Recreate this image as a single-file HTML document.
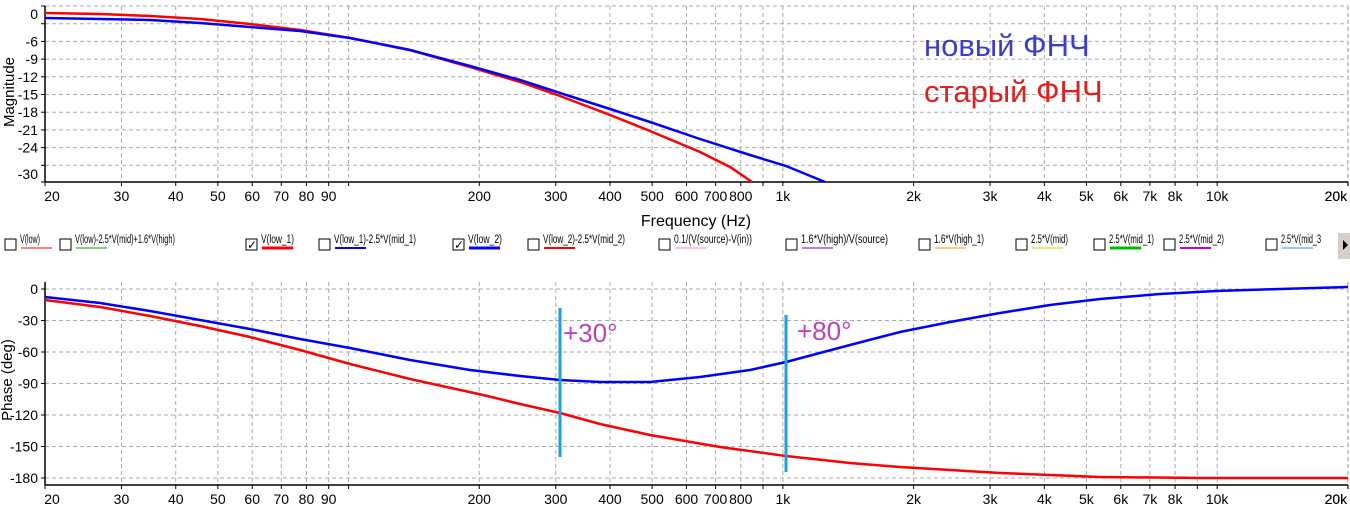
<!DOCTYPE html>
<html><head><meta charset="utf-8"><style>
body{margin:0;background:#fff;width:1350px;height:508px;overflow:hidden}
svg{display:block;font-family:"Liberation Sans",sans-serif}
</style></head><body>
<svg id="s" width="1350" height="508" xmlns="http://www.w3.org/2000/svg">
<g id="g"></g>
<polyline fill="none" stroke="#f00" stroke-width="2.5" points="45,13 100,14 150,16 200,19 250,24 300,30 350,38 410,50 470,67 520,82 560,96 610,115 650,131 700,152 730,167 752,182"/>
<polyline fill="none" stroke="#00f" stroke-width="2.5" points="45,18 100,19 150,20 200,23 250,27 300,31 350,38 410,50 470,66 520,80 560,93 610,109 650,122 700,139 750,155 786,166 825,182"/>
<polyline fill="none" stroke="#f00" stroke-width="2.5" points="45,300 100,307 150,316 200,326 250,337 300,350 350,364 410,379 483,395 520,404 560,413 600,424 650,435 720,447 786,456 850,463 900,467 1000,473 1100,477 1200,478 1348,478"/>
<polyline fill="none" stroke="#00f" stroke-width="2.5" points="45,297 100,303 150,311 200,320 250,329 300,339 350,348 410,360 470,370 520,376 560,380 600,382 650,382 700,377 750,370 786,362 850,345 900,332 950,322 1000,313 1050,305 1100,299 1160,294 1216,291 1280,289 1348,287"/>
<line x1="560" y1="308" x2="560" y2="457" stroke="#1ea0e0" stroke-width="3"/>
<line x1="786" y1="315" x2="786" y2="472" stroke="#1ea0e0" stroke-width="3"/>
<text x="563" y="342" font-size="26" fill="#c040c0">+30°</text>
<text x="797" y="340" font-size="26" fill="#c040c0">+80°</text>
<text x="924" y="56" font-size="31" fill="#3c3cd0">новый ФНЧ</text>
<text x="924" y="102" font-size="31" fill="#e02020">старый ФНЧ</text>
<text x="696" y="226" font-size="16" text-anchor="middle">Frequency (Hz)</text>
<text transform="translate(14,92) rotate(-90)" font-size="15" text-anchor="middle">Magnitude</text>
<text transform="translate(12,380) rotate(-90)" font-size="15" text-anchor="middle">Phase (deg)</text>
<rect x="1338" y="233" width="12" height="26" fill="#d4d0c8"/>
<polygon points="1343,240 1348,245 1343,250" fill="#000"/>
</svg>
<script>
var g=document.getElementById('g'),h='';
function X(f){return 45+Math.log10(f/20)*434.3;}
var fr=[];
for(var d=10;d<=10000;d*=10)for(var k=1;k<10;k++){var f=k*d;if(f>=20&&f<=20000)fr.push(f);}
fr.push(20000);
function lab(f){if(f==100||f==900||f==9000)return '';if(f>=1000){return f%1000?'':(f/1000)+'k';}return String(f);}
function panel(top,bot,ys,yl,lbls){
 fr.forEach(function(f){var x=X(f);h+='<line x1="'+x+'" y1="'+top+'" x2="'+x+'" y2="'+bot+'" stroke="#aaa" stroke-dasharray="4,3"/>';
  var t=lab(f);if(t){var lx=x+(f==20?7:0)+(f==20000?-12:0);h+='<text x="'+lx+'" y="'+(bot+19)+'" font-size="14" text-anchor="middle">'+t+'</text>';}
  h+='<line x1="'+x+'" y1="'+bot+'" x2="'+x+'" y2="'+(bot+4)+'" stroke="#000"/>';});
 ys.forEach(function(y,i){h+='<line x1="45" y1="'+y+'" x2="1348" y2="'+y+'" stroke="#aaa" stroke-dasharray="4,3"/>';
  h+='<line x1="41" y1="'+y+'" x2="45" y2="'+y+'" stroke="#000"/>';
  if(lbls[i]!=='')h+='<text x="38" y="'+(yl[i]+5)+'" font-size="14" text-anchor="end">'+lbls[i]+'</text>';});
 h+='<line x1="45" y1="'+top+'" x2="45" y2="'+bot+'" stroke="#000" stroke-width="1.5"/>';
 h+='<line x1="45" y1="'+bot+'" x2="1348" y2="'+bot+'" stroke="#000" stroke-width="1.5"/>';
}
var ys=[],yl=[],lb=[];
for(var i=0;i<=9;i++){var y=6+i*17.7;ys.push(y);yl.push(y);lb.push('-'+(3*i));}
lb[0]='0';yl[0]=14;lb[1]='';lb[9]='';
ys.push(182);yl.push(174);lb.push('-30');
panel(6,182,ys,yl,lb);
var ys2=[],lb2=[];
for(var i=0;i<=6;i++){ys2.push(289+i*31.5);lb2.push(i==0?'0':'-'+(30*i));}
panel(282,485,ys2,ys2,lb2);
var L=[['V(low)','#f00',1,0],['V(low)-2.5*V(mid)+1.6*V(high)','#0a0',1,0],['V(low_1)','#f00',3,1],['V(low_1)-2.5*V(mid_1)','#00f',2,0],['V(low_2)','#00f',3,1],['V(low_2)-2.5*V(mid_2)','#f00',2,0],['0.1/(V(source)-V(in))','#f8a',1,0],['1.6*V(high)/V(source)','#60c',1,0],['1.6*V(high_1)','#f90',1,0],['2.5*V(mid)','#cc0',1,0],['2.5*V(mid_1)','#0b0',3,0],['2.5*V(mid_2)','#c0c',2,0],['2.5*V(mid_3','#29d',1,0]];
var lx=[5,60,246,319,453,528,659,786,919,1016,1094,1164,1266];
var lw=[20,100,33,82,34,82,78,87,50,37,45,45,40];
L.forEach(function(l,i){var x=lx[i];
 h+='<rect x="'+x+'" y="239" width="11" height="11" fill="#fff" stroke="#000"/>';
 if(l[3])h+='<text x="'+(x+1)+'" y="249" font-size="12">✓</text>';
 h+='<text x="'+(x+15)+'" y="243" font-size="11.5" textLength="'+lw[i]+'" lengthAdjust="spacingAndGlyphs">'+l[0]+'</text>';
 h+='<line x1="'+(x+16)+'" y1="248" x2="'+(x+47)+'" y2="248" stroke="'+l[1]+'" stroke-width="'+l[2]+'"/>';});
g.innerHTML=h;
</script>
</body></html>
